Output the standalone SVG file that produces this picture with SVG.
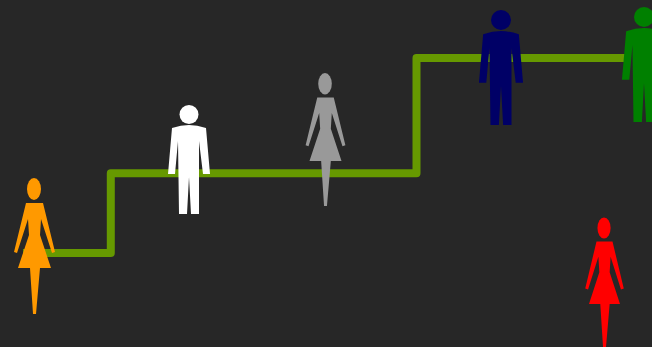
<svg xmlns="http://www.w3.org/2000/svg" width="652" height="347" viewBox="0 0 652 347">
<defs>
<style>.line{fill:none;stroke:#669900;stroke-width:8;stroke-linejoin:round}</style>
<g id="woman"><ellipse cx="34" cy="189" rx="7" ry="11"/><path d="M26 203L43 203L55 252L52 253L41 219L40 235L51 268L40 268L36 314L33 314L30 268L18 268L29 235L28 219L17 253L14 252Z"/></g>
<g id="man"><circle cx="189" cy="114.500" r="9.500"/><path d="M172 128Q181 125 189 125Q197 125 206 128L210 174L203 174L199 141L199 214L191 214L189 177L187 214L179 214L178 141L175 174L168 174Z"/></g>
</defs>
<rect width="652" height="347" fill="#272727"/>
<g id="connectors"><path class="line" d="M23 253H110.800V173.300H416.500V58H630"/></g>
<g id="node-orange"><use href="#woman" fill="#ff9900"/></g>
<g id="node-white"><use href="#man" fill="#ffffff"/></g>
<g id="node-gray"><use href="#woman" transform="translate(325.500 73) scale(.97 .978) translate(-34.500 -178)" fill="#999999"/></g>
<g id="node-navy"><use href="#man" transform="translate(501 10) scale(1.05 1.055) translate(-189 -105)" fill="#000066"/></g>
<g id="node-green"><use href="#man" transform="translate(644 7) scale(1.05 1.055) translate(-189 -105)" fill="#008000"/></g>
<g id="node-red"><use href="#woman" transform="translate(604.500 217.500) scale(.94 .96) translate(-34.500 -178)" fill="#ff0000"/></g>
</svg>
